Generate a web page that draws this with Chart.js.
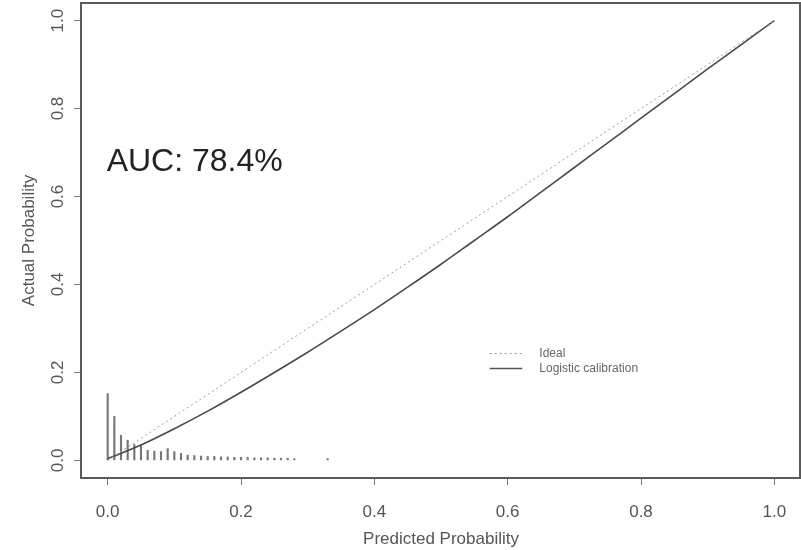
<!DOCTYPE html>
<html>
<head>
<meta charset="utf-8">
<script src="https://cdn.jsdelivr.net/npm/chart.js@4.4.1/dist/chart.umd.min.js"></script>
<style>
  html, body { margin: 0; padding: 0; background: #fff; overflow: hidden; }
  canvas { display: block; }
</style>
</head>
<body>
<canvas id="calib" width="801" height="550"></canvas>
<script>
// calibration curve
const predGrid = [0, 0.05, 0.1, 0.15, 0.2, 0.25, 0.3, 0.35, 0.4, 0.45, 0.5, 0.55, 0.6, 0.65, 0.7, 0.75, 0.8, 0.85, 0.9, 0.95, 1.0];
const calibActual = [0.004, 0.035, 0.072, 0.112, 0.155, 0.2, 0.246, 0.294, 0.343, 0.394, 0.446, 0.5, 0.554, 0.61, 0.666, 0.722, 0.778, 0.834, 0.89, 0.945, 1.0];

// ideal line
const idealX = [0, 1];
const idealY = [0, 1];

// spike histogram of predicted probabilities
const spikeX = [0, 0.01, 0.02, 0.03, 0.04, 0.05, 0.06, 0.07, 0.08, 0.09, 0.1, 0.11, 0.12, 0.13, 0.14,
                0.15, 0.16, 0.17, 0.18, 0.19, 0.2, 0.21, 0.22, 0.23, 0.24, 0.25, 0.26, 0.27, 0.28, 0.33];
const spikeH = [0.152, 0.1, 0.057, 0.046, 0.036, 0.035, 0.023, 0.021, 0.02, 0.027, 0.02, 0.016, 0.012, 0.011, 0.01,
                0.009, 0.009, 0.008, 0.008, 0.007, 0.007, 0.007, 0.006, 0.006, 0.006, 0.005, 0.005, 0.005, 0.004, 0.004];

// ticks
const xTicks = [0, 0.2, 0.4, 0.6, 0.8, 1.0];
const yTicks = [0, 0.2, 0.4, 0.6, 0.8, 1.0];

const aucText = 'AUC: 78.4%';
const legendItems = ['Ideal', 'Logistic calibration'];

const FONT = '"Liberation Sans", Arial, sans-serif';

// box, rotated y labels, AUC text, legend
const rStyle = {
    id: 'rStyle',
    afterDraw(chart) {
        const { ctx, chartArea: a, scales: { x, y } } = chart;
        ctx.save();
        ctx.strokeStyle = '#5a5a5a';
        ctx.lineWidth = 2;
        ctx.strokeRect(a.left, a.top, a.right - a.left - 1, a.bottom - a.top);

        // y tick labels, rotated like R
        ctx.fillStyle = '#555';
        ctx.font = '17px ' + FONT;
        ctx.textAlign = 'center';
        ctx.textBaseline = 'middle';
        yTicks.forEach(v => {
            ctx.save();
            ctx.translate(58, y.getPixelForValue(v));
            ctx.rotate(-Math.PI / 2);
            ctx.fillText(v.toFixed(1), 0, 0);
            ctx.restore();
        });

        // AUC
        ctx.fillStyle = '#222';
        ctx.font = '32px ' + FONT;
        ctx.textAlign = 'left';
        ctx.textBaseline = 'middle';
        ctx.fillText(aucText, x.getPixelForValue(0) - 1, y.getPixelForValue(0.678));

        // legend
        const lx0 = x.getPixelForValue(0.573), lx1 = x.getPixelForValue(0.622);
        const ly = [y.getPixelForValue(0.243), y.getPixelForValue(0.209)];
        ctx.font = '12px ' + FONT;
        ctx.fillStyle = '#666';
        legendItems.forEach((t, i) => {
            ctx.beginPath();
            ctx.setLineDash(i === 0 ? [2, 3] : []);
            ctx.strokeStyle = i === 0 ? '#999' : '#555';
            ctx.lineWidth = i === 0 ? 1 : 1.5;
            ctx.moveTo(lx0, ly[i]);
            ctx.lineTo(lx1, ly[i]);
            ctx.stroke();
            ctx.fillText(t, lx1 + 17, ly[i]);
        });
        ctx.restore();
    }
};

new Chart(document.getElementById('calib'), {
    type: 'scatter',
    data: {
        datasets: [
            {
                type: 'line',
                label: 'Ideal',
                data: idealX.map((v, i) => ({ x: v, y: idealY[i] })),
                borderColor: '#9a9a9a',
                borderWidth: 1,
                borderDash: [2, 3],
                pointRadius: 0,
                fill: false
            },
            {
                type: 'line',
                label: 'Logistic calibration',
                data: predGrid.map((v, i) => ({ x: v, y: calibActual[i] })),
                borderColor: '#4a4a4a',
                borderWidth: 1.6,
                pointRadius: 0,
                cubicInterpolationMode: 'monotone',
                fill: false
            },
            {
                type: 'bar',
                label: 'spikes',
                data: spikeX.map((v, i) => ({ x: v, y: spikeH[i] })),
                backgroundColor: '#777',
                barThickness: 1.5
            }
        ]
    },
    options: {
        responsive: false,
        animation: false,
        layout: { padding: { top: 3, right: 0, left: 0, bottom: 0 } },
        plugins: { legend: { display: false }, tooltip: { enabled: false } },
        scales: {
            x: {
                type: 'linear',
                min: -0.04,
                max: 1.04,
                offset: false,
                afterBuildTicks: s => { s.ticks = xTicks.map(v => ({ value: v })); },
                afterFit: s => { s.height = 72; s.paddingLeft = 0; s.paddingRight = 0; },
                grid: { offset: false, drawOnChartArea: false, drawTicks: true, tickLength: 7, color: '#777', lineWidth: 1 },
                border: { display: false },
                ticks: {
                    color: '#555',
                    padding: 17,
                    maxRotation: 0,
                    font: { family: FONT, size: 17 },
                    callback: v => v.toFixed(1)
                },
                title: {
                    display: true,
                    text: 'Predicted Probability',
                    color: '#555',
                    font: { family: FONT, size: 17 },
                    padding: { top: 3, bottom: 0 }
                }
            },
            y: {
                type: 'linear',
                min: -0.04,
                max: 1.04,
                afterBuildTicks: s => { s.ticks = yTicks.map(v => ({ value: v })); },
                afterFit: s => { s.width = 81; },
                grid: { drawOnChartArea: false, drawTicks: true, tickLength: 7, color: '#777', lineWidth: 1 },
                border: { display: false },
                ticks: { display: false },
                title: {
                    display: true,
                    text: 'Actual Probability',
                    color: '#555',
                    font: { family: FONT, size: 17 },
                    padding: { top: 19, bottom: 0 }
                }
            }
        }
    },
    plugins: [rStyle]
});
</script>
</body>
</html>
